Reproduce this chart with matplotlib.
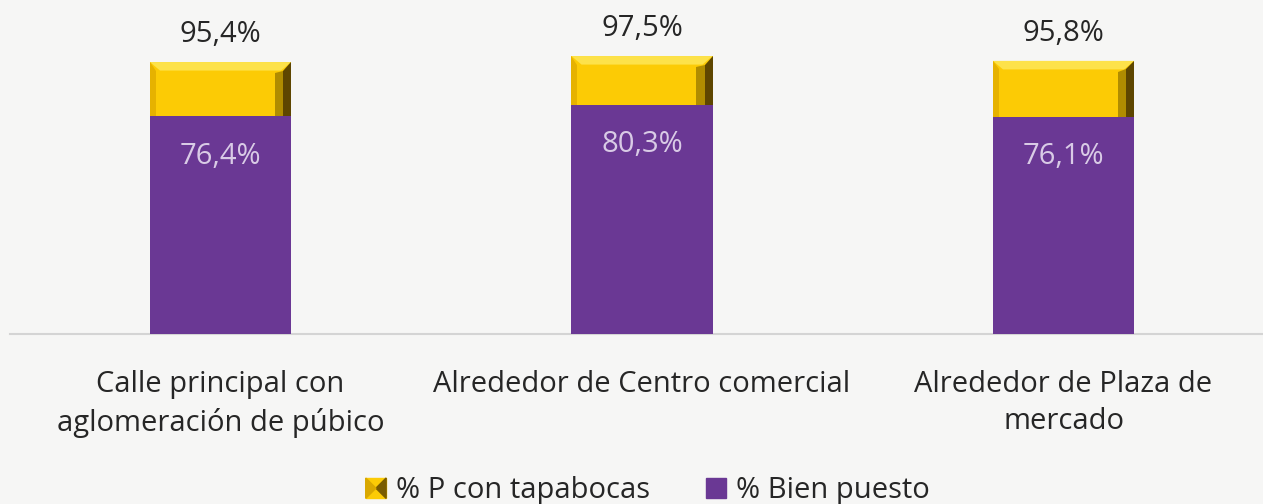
import matplotlib.pyplot as plt
from matplotlib.patches import Polygon, Patch
from matplotlib.legend_handler import HandlerPatch

categories = ["Calle principal con\naglomeración de púbico",
              "Alrededor de Centro comercial",
              "Alrededor de Plaza de\nmercado"]
con_tapabocas = [95.4, 97.5, 95.8]
bien_puesto = [76.4, 80.3, 76.1]

plt.rcParams['font.family'] = ['Open Sans', 'DejaVu Sans']

bg = "#f6f6f5"
yellow = "#fccb05"
purple = "#6a3894"

fig = plt.figure(figsize=(12.63, 5.04), dpi=100, facecolor=bg)
ax = fig.add_axes([9.75 / 1263, 170 / 504, 1 - 9.75 / 1263, 334 / 504])
ax.set_facecolor(bg)

x = list(range(len(categories)))
w = 0.335
ybars = ax.bar(x, con_tapabocas, width=w, color=yellow, zorder=2)
pbars = ax.bar(x, bien_puesto, width=w, color=purple, zorder=3)

# bevel on the yellow bars
dx, dy = 0.024, 3.0
for b in ybars:
    x0, x1 = b.get_x(), b.get_x() + b.get_width()
    top = b.get_height()
    ax.add_patch(Polygon([(x0, top), (x1, top), (x1 - dx, top - dy), (x0 + dx, top - dy)],
                         closed=True, color="#fde24a", lw=0, zorder=2.5))
    ax.add_patch(Polygon([(x1, top), (x1, 0), (x1 - dx * 0.8, 0), (x1 - dx * 0.8, top - dy)],
                         closed=True, color="#5e4600", lw=0, zorder=2.5))
    ax.add_patch(Polygon([(x1 - dx * 0.8, top - dy), (x1 - dx * 0.8, 0), (x1 - dx * 1.6, 0),
                          (x1 - dx * 1.6, top - dy * 1.3)],
                         closed=True, color="#b08c00", lw=0, zorder=2.5))
    ax.add_patch(Polygon([(x0, top), (x0, 0), (x0 + dx * 0.6, 0), (x0 + dx * 0.6, top - dy)],
                         closed=True, color="#e6b200", lw=0, zorder=2.5))

for xi, v in zip(x, con_tapabocas):
    ax.text(xi, v + 9.5, f"{v:.1f}%".replace(".", ","), ha="center", va="center",
            fontsize=21, color="#262626")
for xi, v in zip(x, bien_puesto):
    ax.text(xi, v - 14, f"{v:.1f}%".replace(".", ","), ha="center", va="center",
            fontsize=21, color="#d9cbe6", zorder=4)

ax.set_xlim(-0.5, (1263 - 220.5) / 421.5)
ax.set_ylim(0, 334 / 2.851)
ax.set_xticks(x)
ax.set_xticklabels(categories, fontsize=21, color="#262626", linespacing=1.38)
ax.tick_params(axis="x", length=0, pad=26)
ax.set_yticks([])
for s in ["top", "right", "left"]:
    ax.spines[s].set_visible(False)
ax.spines["bottom"].set_color("#d4d4d4")
ax.spines["bottom"].set_linewidth(1.5)


class BevelHandler(HandlerPatch):
    def create_artists(self, legend, orig_handle, xdescent, ydescent, width, height, fontsize, trans):
        s = height
        x0 = -xdescent + (width - s) / 2
        y0 = -ydescent
        base = plt.Rectangle((x0, y0), s, s, color=yellow, transform=trans)
        d = s * 0.5
        dark = Polygon([(x0 + s, y0), (x0 + s, y0 + s), (x0 + d, y0 + d)], closed=True,
                       color="#7a5c00", transform=trans)
        left = Polygon([(x0, y0), (x0, y0 + s), (x0 + d, y0 + d)], closed=True,
                       color="#d9a800", transform=trans)
        return [base, dark, left]


h1 = Patch(color=yellow, label="% P con tapabocas")
h2 = Patch(color=purple, label="% Bien puesto")
fig.legend(handles=[h1, h2], loc="center", bbox_to_anchor=(0.513, 0.026), ncol=2,
           frameon=False, fontsize=21, handlelength=0.7, handleheight=0.7,
           handletextpad=0.35, columnspacing=1.9, labelcolor="#262626",
           handler_map={h1: BevelHandler()})

fig.savefig("out.png", dpi=100, facecolor=bg)
